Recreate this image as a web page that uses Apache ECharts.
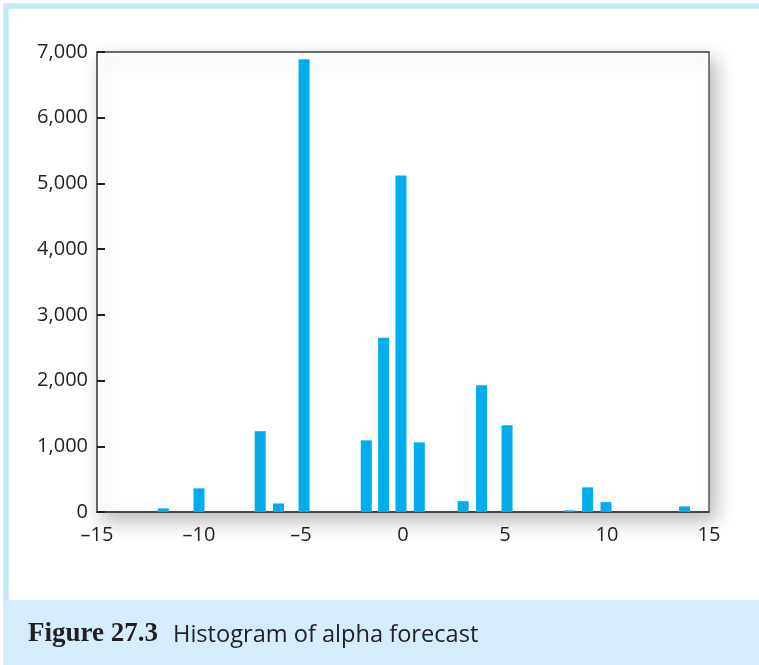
<!DOCTYPE html>
<html>
<head>
<meta charset="utf-8">
<script src="https://cdn.jsdelivr.net/npm/echarts@6/dist/echarts.min.js"></script>
<style>
  html, body { margin: 0; padding: 0; background: #fff; }
  #chart { width: 759px; height: 665px; }
</style>
</head>
<body>
<div id="chart"></div>
<script>
// bin centres (alpha forecast) and counts
var binCentres = [-11.75, -10, -7, -6.1, -4.85, -1.8, -0.95, -0.1, 0.8, 2.95, 3.85, 5.1, 8.15, 9.05, 9.95, 13.8];
var binCounts = [55, 360, 1230, 130, 6890, 1090, 2650, 5120, 1060, 165, 1930, 1320, 25, 375, 150, 85];

var xTicks = [-15, -10, -5, 0, 5, 10, 15];
var yTicks = [0, 1000, 2000, 3000, 4000, 5000, 6000, 7000];

var captionBold = 'Figure 27.3';
var captionText = 'Histogram of alpha forecast';

var textColor = '#231f20';
var barColor = '#00aeef';

var chart = echarts.init(document.getElementById('chart'));

var seriesData = binCentres.map(function (x, i) { return [x, binCounts[i]]; });

var option = {
    backgroundColor: '#fff',
    animation: false,
    grid: {
        show: true,
        left: 97,
        top: 52,
        width: 612,
        height: 460,
        backgroundColor: '#fff',
        borderColor: '#3d3d3d',
        borderWidth: 1.3,
        shadowColor: 'rgba(0,0,0,0.28)',
        shadowBlur: 18,
        shadowOffsetX: 6,
        shadowOffsetY: 8
    },
    xAxis: {
        type: 'value',
        min: xTicks[0],
        max: xTicks[xTicks.length - 1],
        interval: 5,
        axisLine: { show: true, onZero: false, lineStyle: { color: '#3d3d3d', width: 1.5 } },
        axisTick: { show: false },
        splitLine: { show: false },
        axisLabel: {
            color: textColor,
            fontFamily: 'Open Sans',
            fontSize: 20,
            margin: 13,
            formatter: function (v) { return String(v).replace('-', '\u2013'); }
        }
    },
    yAxis: {
        type: 'value',
        min: yTicks[0],
        max: yTicks[yTicks.length - 1],
        interval: 1000,
        axisLine: { show: true, onZero: false, lineStyle: { color: '#666', width: 2 } },
        axisTick: { show: true, inside: true, length: 8, lineStyle: { color: '#231f20', width: 2 } },
        splitLine: { show: false },
        axisLabel: {
            color: textColor,
            fontFamily: 'Open Sans',
            fontSize: 20,
            margin: 9,
            formatter: function (v) { return v.toLocaleString('en-US'); }
        }
    },
    series: [{
        type: 'bar',
        data: seriesData,
        barWidth: 11,
        itemStyle: { color: barColor }
    }],
    graphic: [
        {
            type: 'rect',
            z: -1,
            shape: { x: 6, y: 6, width: 800, height: 700 },
            style: { fill: 'none', stroke: '#c6e9f9', lineWidth: 5.5 }
        },
        {
            type: 'rect',
            z: 1,
            shape: { x: 3, y: 600, width: 760, height: 70 },
            style: { fill: '#d5edfa' }
        },
        {
            type: 'text',
            z: 2,
            x: 28,
            y: 634,
            style: {
                text: captionBold,
                fill: textColor,
                font: 'bold 27px "Liberation Serif"',
                verticalAlign: 'middle'
            }
        },
        {
            type: 'text',
            z: 2,
            x: 173,
            y: 635,
            style: {
                text: captionText,
                fill: textColor,
                font: '23.6px "Open Sans"',
                verticalAlign: 'middle'
            }
        }
    ]
};

chart.setOption(option);
</script>
</body>
</html>
